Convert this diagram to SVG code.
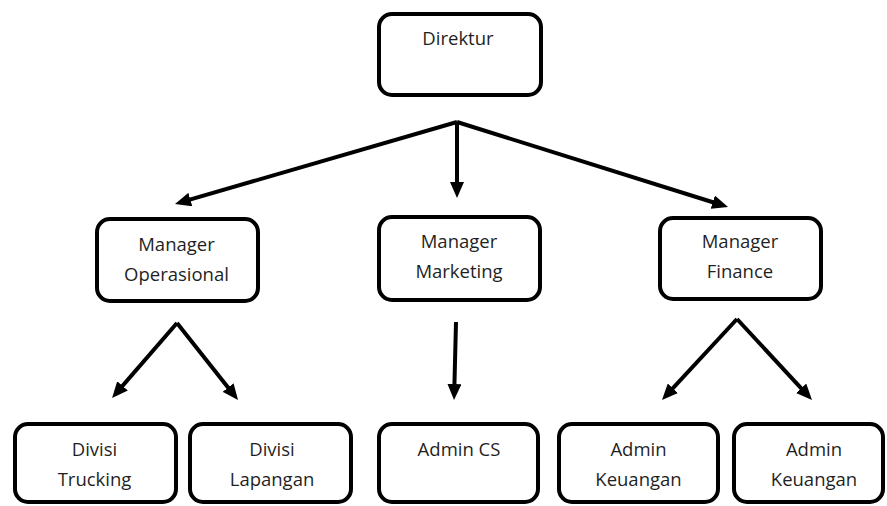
<svg xmlns="http://www.w3.org/2000/svg" width="887" height="506" viewBox="0 0 887 506">
  <style>
    .box { fill: #ffffff; stroke: #000000; stroke-width: 4; }
    .lbl { font-family: "Open Sans", "Liberation Sans", sans-serif; font-size: 18.5px; fill: #1f1f1f; text-anchor: middle; }
    .conn { stroke: #000000; stroke-width: 4; fill: none; marker-end: url(#arrow); }
  </style>
  <defs>
    <marker id="arrow" markerUnits="userSpaceOnUse" markerWidth="16" markerHeight="14" viewBox="0 0 16 14" refX="6" refY="7" orient="auto">
      <path d="M0,0 L16,7 L0,14 z" fill="#000000"/>
    </marker>
  </defs>
  <rect x="0" y="0" width="887" height="506" fill="#ffffff"/>

  <g id="connectors">
    <line class="conn" x1="457" y1="122" x2="184.6" y2="201.2"/>
    <line class="conn" x1="457" y1="122" x2="457" y2="188"/>
    <line class="conn" x1="457" y1="122" x2="718.5" y2="204"/>
    <line class="conn" x1="177" y1="323" x2="118.6" y2="390.4"/>
    <line class="conn" x1="177" y1="323" x2="231.8" y2="392.2"/>
    <line class="conn" x1="456" y1="322" x2="454.3" y2="390"/>
    <line class="conn" x1="737" y1="319" x2="668.8" y2="392.7"/>
    <line class="conn" x1="737" y1="319" x2="805.2" y2="392.7"/>
  </g>

  <g id="direktur">
    <rect class="box" x="379" y="14" width="162" height="81" rx="13"/>
    <text class="lbl" x="458" y="45">Direktur</text>
  </g>

  <g id="manager-operasional">
    <rect class="box" x="97" y="219" width="161" height="82" rx="13"/>
    <text class="lbl" x="176.5" y="251">Manager</text>
    <text class="lbl" x="176.5" y="281">Operasional</text>
  </g>

  <g id="manager-marketing">
    <rect class="box" x="379" y="217" width="161" height="83" rx="13"/>
    <text class="lbl" x="459" y="248">Manager</text>
    <text class="lbl" x="459" y="278">Marketing</text>
  </g>

  <g id="manager-finance">
    <rect class="box" x="660" y="218" width="161" height="81" rx="13"/>
    <text class="lbl" x="740" y="248">Manager</text>
    <text class="lbl" x="740" y="278">Finance</text>
  </g>

  <g id="divisi-trucking">
    <rect class="box" x="15" y="424" width="161" height="78" rx="13"/>
    <text class="lbl" x="94.5" y="456">Divisi</text>
    <text class="lbl" x="94.5" y="486">Trucking</text>
  </g>

  <g id="divisi-lapangan">
    <rect class="box" x="190" y="424" width="161" height="78" rx="13"/>
    <text class="lbl" x="272" y="456">Divisi</text>
    <text class="lbl" x="272" y="486">Lapangan</text>
  </g>

  <g id="admin-cs">
    <rect class="box" x="379" y="424" width="159" height="78" rx="13"/>
    <text class="lbl" x="459" y="456">Admin CS</text>
  </g>

  <g id="admin-keuangan-1">
    <rect class="box" x="559" y="424" width="159" height="78" rx="13"/>
    <text class="lbl" x="638.5" y="456">Admin</text>
    <text class="lbl" x="638.5" y="486">Keuangan</text>
  </g>

  <g id="admin-keuangan-2">
    <rect class="box" x="734" y="424" width="149" height="78" rx="13"/>
    <text class="lbl" x="814" y="456">Admin</text>
    <text class="lbl" x="814" y="486">Keuangan</text>
  </g>
</svg>
